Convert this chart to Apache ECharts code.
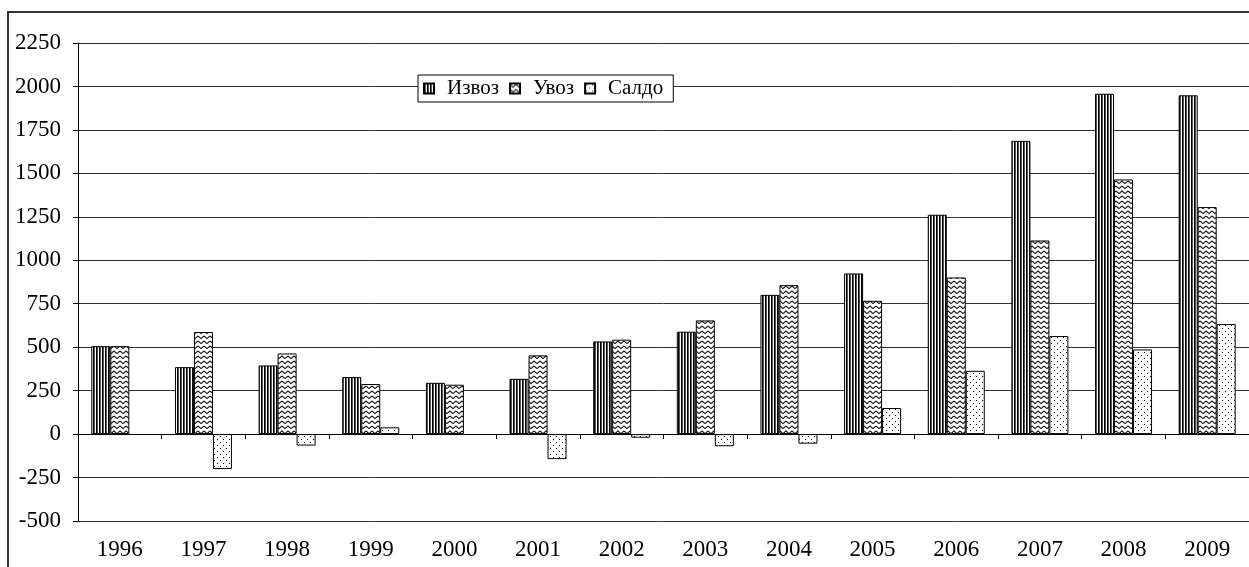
<!DOCTYPE html>
<html>
<head>
<meta charset="utf-8">
<script src="https://cdn.jsdelivr.net/npm/echarts@6/dist/echarts.min.js"></script>
<style>
html,body{margin:0;padding:0;background:#fff;}
#c{width:1249px;height:567px;}
</style>
</head>
<body>
<div id="c"></div>
<script>
const years = ['1996','1997','1998','1999','2000','2001','2002','2003','2004','2005','2006','2007','2008','2009'];
const izvoz = [506, 385, 395, 328, 295, 318, 533, 589, 801, 924, 1262, 1687, 1958, 1949];
const uvoz  = [506, 587, 464, 288, 284, 453, 543, 654, 857, 767, 901, 1114, 1465, 1306];
const saldo = [0, -201, -66, 39, 0, -144, -21, -70, -55, 150, 364, 564, 487, 633];
const seriesNames = ['Извоз', 'Увоз', 'Салдо'];

function makeTile(w, h, draw) {
  const c = document.createElement('canvas');
  c.width = w; c.height = h;
  const ctx = c.getContext('2d');
  ctx.fillStyle = '#fff';
  ctx.fillRect(0, 0, w, h);
  draw(ctx);
  return c;
}
const stripes = makeTile(3, 4, ctx => {
  ctx.fillStyle = '#000'; ctx.fillRect(0, 0, 1, 4);
  ctx.fillStyle = '#555'; ctx.fillRect(1, 0, 1, 4);
});
const waves = makeTile(6, 5, ctx => {
  ctx.strokeStyle = '#111'; ctx.lineWidth = 1.1;
  ctx.beginPath();
  ctx.moveTo(0, 1); ctx.lineTo(3, 3.6); ctx.lineTo(6, 1);
  ctx.stroke();
});
const dots = makeTile(6, 6, ctx => {
  ctx.fillStyle = '#000';
  ctx.fillRect(1, 1, 1, 1);
  ctx.fillRect(4, 4, 1, 1);
});
const pats = [stripes, waves, dots];
const datas = [izvoz, uvoz, saldo];

const font = 'Liberation Serif';
const chart = echarts.init(document.getElementById('c'), null, {renderer: 'canvas'});
chart.setOption({
  animation: false,
  backgroundColor: '#fff',
  textStyle: {fontFamily: font},
  grid: {left: 78, top: 43, width: 1186, height: 478, containLabel: false},
  legend: {
    left: 418, top: 75,
    backgroundColor: '#fff', borderColor: '#000', borderWidth: 1,
    padding: [3, 10, 3, 5],
    itemWidth: 10, itemHeight: 10, itemGap: 10,
    icon: 'rect',
    textStyle: {fontFamily: font, fontSize: 21, color: '#000', padding: [2, 0, 0, 8]},
    data: seriesNames
  },
  xAxis: [{
    type: 'category', data: years,
    axisLine: {onZero: true, lineStyle: {color: '#000', width: 1}},
    axisTick: {show: true, length: 5, lineStyle: {color: '#000'}},
    axisLabel: {show: false},
    splitLine: {show: false}
  }, {
    type: 'category', data: years, position: 'bottom',
    axisLine: {show: false, onZero: false},
    axisTick: {show: false},
    axisLabel: {fontFamily: font, fontSize: 23, color: '#000', margin: 17},
    splitLine: {show: false}
  }],
  yAxis: {
    type: 'value', min: -500, max: 2250, interval: 250,
    axisLine: {show: true, lineStyle: {color: '#000', width: 1}},
    axisTick: {show: true, length: 5, lineStyle: {color: '#000'}},
    axisLabel: {fontFamily: font, fontSize: 23, color: '#000', margin: 17, formatter: v => String(v)},
    splitLine: {show: true, lineStyle: {color: '#333', width: 1}}
  },
  series: seriesNames.map((n, i) => ({
    name: n, type: 'bar', xAxisIndex: 0,
    data: datas[i].map(v => v === 0 ? {value: v, itemStyle: {borderWidth: 0}} : v),
    barWidth: 19, barGap: '0%',
    itemStyle: {color: {image: pats[i], repeat: 'repeat'}, borderColor: '#000', borderWidth: 1}
  })),
  graphic: [{
    type: 'rect', silent: true, z: 100,
    shape: {x: 8, y: 12, width: 1260, height: 580},
    style: {fill: null, stroke: '#333', lineWidth: 2}
  }]
});
</script>
</body>
</html>
